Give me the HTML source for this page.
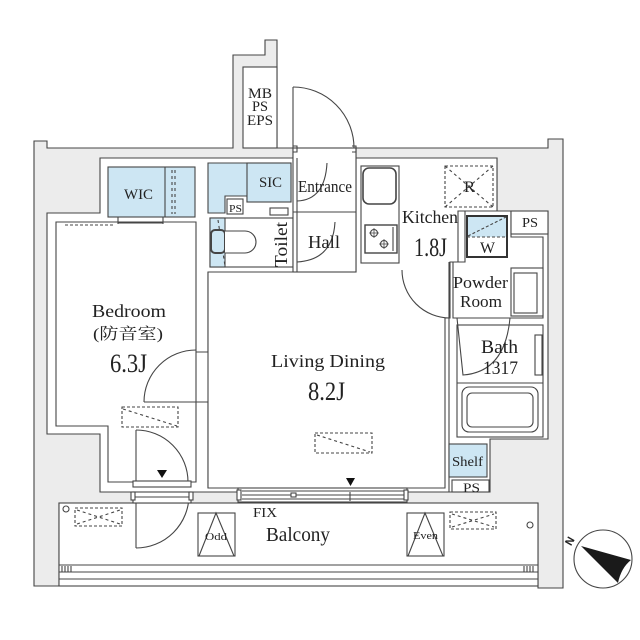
<!DOCTYPE html>
<html><head><meta charset="utf-8"><style>
html,body{margin:0;padding:0;background:#fff;}
svg{display:block;}
text{font-family:"Liberation Serif","Noto Serif CJK SC",serif;fill:#222;}
</style></head><body>
<svg width="640" height="640" viewBox="0 0 640 640" xmlns="http://www.w3.org/2000/svg">
<g fill="none" stroke="#454545" stroke-width="1.1">
<!-- gray structure -->
<polygon fill="#ececec" points="34,141 47,141 47,148 233,148 233,55 265,55 265,40 277,40 277,148 548,148 548,139 563,139 563,588 538,588 538,503 59,503 59,586 34,586"/>
<rect x="243" y="67" width="34" height="81" fill="#fff"/>
<!-- unit interior -->
<polygon fill="#fff" points="47,213 100,213 100,158 293,158 293,148 356,148 356,158 497,158 497,211 548,211 548,439 490,439 490,492 100,492 100,434 47,434"/>
<!-- balcony -->
<rect x="59" y="503" width="479" height="83" fill="#fff"/>
<line x1="59" y1="565" x2="538" y2="565"/>
<line x1="59" y1="572" x2="538" y2="572"/>
<line x1="59" y1="579" x2="538" y2="579"/>
<path d="M62,566V572M65,566V572M68,566V572M71,566V572M524,566V572M527,566V572M530,566V572M533,566V572"/>

<!-- bedroom -->
<polygon fill="#fff" points="56,222 196,222 196,482 108,482 108,426 56,426"/>
<line x1="208" y1="272" x2="208" y2="352"/>
<line x1="208" y1="402" x2="208" y2="488"/>
<path d="M196,352H208M196,402H208"/>
<!-- WIC -->
<rect x="108" y="167" width="87" height="50" fill="#cde6f3"/>
<line x1="165" y1="167" x2="165" y2="217"/>
<path d="M172,170V214M175,170V214" stroke-dasharray="3,3"/>
<path d="M118,217V224M163,217V224M118,223H163"/>
<line x1="65" y1="225" x2="115" y2="225" stroke-dasharray="3,2"/>
<!-- closet / SIC -->
<polygon fill="#cde6f3" points="208,163 291,163 291,202 247,202 247,196 225,196 225,213 208,213"/>
<rect x="247" y="163" width="44" height="39" fill="#cde6f3"/>
<rect x="227" y="199" width="16" height="15" fill="#fff"/>
<rect x="270" y="208" width="18" height="7" fill="#fff"/>
<!-- toilet -->
<rect x="210" y="218" width="83" height="49" fill="#fff"/>
<rect x="210" y="218" width="15" height="49" fill="#cde6f3"/>
<line x1="218" y1="220" x2="225" y2="266" stroke-dasharray="3,3"/>
<rect x="211" y="230" width="14" height="23" rx="4" stroke-width="2" fill="#cde6f3"/>
<path d="M225,231H245A11,11 0 0 1 245,253H225" fill="#fff"/>
<line x1="245" y1="275" x2="297" y2="275" stroke-dasharray="3,2"/>
<!-- LD + kitchen -->
<polygon fill="#fff" points="208,272 356,272 356,158 497,158 497,211 458,211 458,262 450,262 450,318 445,318 445,488 208,488"/>
<!-- entrance / hall -->
<rect x="293" y="148" width="63" height="124" fill="#fff"/>
<line x1="297" y1="158" x2="297" y2="272"/>
<line x1="293" y1="212" x2="356" y2="212"/>
<path d="M293,146H297V152H293M352,146H356V152H352"/>
<line x1="293" y1="87" x2="293" y2="148"/>
<path d="M293,87A61,61 0 0 1 354,148"/>
<path d="M327,163Q325,200 297,201"/>
<path d="M335,222Q333,260 297,262"/>
<!-- kitchen fittings -->
<rect x="361" y="166" width="38" height="97" fill="#fff"/>
<rect x="363" y="168" width="33" height="36" rx="6" stroke-width="1.6"/>
<rect x="365" y="225" width="32" height="28" stroke-width="1.4"/>
<circle cx="374" cy="233" r="3.5"/><circle cx="384" cy="244" r="3.5"/>
<path d="M369,233H379M374,228V238M379,244H389M384,239V249" stroke-width="0.8"/>
<line x1="393" y1="227" x2="393" y2="251"/>
<rect x="445" y="166" width="48" height="41" stroke-dasharray="3,2"/>
<path d="M445,166L493,207M493,166L445,207" stroke-dasharray="3,3"/>
<path d="M402,270A48,48 0 0 0 450,318"/>
<!-- wet area -->
<line x1="449" y1="262" x2="449" y2="492"/>
<polygon fill="#fff" points="465,211 511,211 511,237 543,237 543,318 453,318 453,262 465,262"/>
<rect x="467" y="216" width="40" height="21" fill="#cde6f3" stroke="none"/>
<rect x="467" y="216" width="40" height="41" stroke-width="2" stroke="#333"/>
<path d="M467,237H507M468,236L506,217" stroke-dasharray="3,2"/>
<rect x="511" y="211" width="37" height="23" fill="#fff"/>
<rect x="511" y="268" width="32" height="48" fill="#fff"/>
<rect x="514" y="273" width="23" height="40"/>
<rect x="457" y="325" width="86" height="112" fill="#fff"/>
<line x1="457" y1="383" x2="543" y2="383"/>
<rect x="462" y="387" width="76" height="45" rx="7"/>
<rect x="467" y="393" width="66" height="34" rx="5"/>
<rect x="535" y="335" width="7" height="40"/>
<path d="M457,318L463,375Q505,372 510,318"/>
<rect x="449" y="444" width="38" height="33" fill="#cde6f3"/>
<rect x="452" y="480" width="37" height="12" fill="#fff"/>
<!-- bedroom doors -->
<line x1="136" y1="430" x2="136" y2="482"/>
<path d="M136,430A52,52 0 0 1 188,482"/>
<line x1="136" y1="495" x2="136" y2="548"/>
<path d="M189,495A53,53 0 0 1 136,548"/>
<line x1="144" y1="402" x2="196" y2="402"/>
<path d="M144,402A52,52 0 0 1 196,350"/>
<!-- windows -->
<rect x="133" y="481" width="58" height="6" fill="#fff"/>
<rect x="133" y="492" width="58" height="11" fill="#fff"/>
<line x1="133" y1="497" x2="191" y2="497"/>
<rect x="131" y="492" width="4" height="8" fill="#fff"/>
<rect x="189" y="492" width="4" height="8" fill="#fff"/>
<rect x="238" y="488" width="169" height="14" fill="#fff"/>
<path d="M242,491H405M242,495H405M242,499H405"/>
<rect x="237" y="490" width="4" height="10" fill="#fff"/>
<rect x="404" y="490" width="4" height="10" fill="#fff"/>
<rect x="291" y="493" width="5" height="4" fill="#fff"/>
<line x1="350" y1="492" x2="350" y2="501"/>
<!-- dashed AC units -->
<rect x="122" y="407" width="56" height="20" stroke-dasharray="3,2"/>
<line x1="123" y1="409" x2="177" y2="426" stroke-dasharray="3,3"/>
<rect x="315" y="433" width="57" height="20" stroke-dasharray="3,2"/>
<line x1="317" y1="435" x2="370" y2="452" stroke-dasharray="3,3"/>
<rect x="75" y="508" width="47" height="18" stroke-dasharray="3,2"/>
<path d="M77,510L120,524M77,524L120,510" stroke-dasharray="3,3"/>
<rect x="450" y="512" width="46" height="17" stroke-dasharray="3,2"/>
<path d="M452,514L494,527M452,527L494,514" stroke-dasharray="3,3"/>
<circle cx="66" cy="509" r="3"/>
<circle cx="530" cy="525" r="3"/>
<!-- odd / even -->
<rect x="198" y="513" width="37" height="43" fill="#fff"/>
<polyline points="199,556 216,513 234,556"/>
<rect x="407" y="513" width="37" height="43" fill="#fff"/>
<polyline points="408,556 425,513 443,556"/>
<!-- compass -->
<circle cx="603" cy="559" r="29" fill="#fff"/>
</g>
<polygon points="346,478 355,478 350.5,486" fill="#111"/>
<polygon points="157,470 167,470 162,478" fill="#111"/>
<path d="M581,546L631,560Q621,568 618,583Z" fill="#1a1a1a"/>
<text transform="translate(573,543) rotate(-60)" font-size="11" font-weight="bold" text-anchor="middle" style="font-family:'Liberation Sans',sans-serif">N</text>

<!-- labels -->
<text x="248" y="98" font-size="15" textLength="24" lengthAdjust="spacingAndGlyphs">MB</text>
<text x="252" y="111" font-size="15" textLength="16" lengthAdjust="spacingAndGlyphs">PS</text>
<text x="247" y="125" font-size="15" textLength="26" lengthAdjust="spacingAndGlyphs">EPS</text>
<text x="124" y="199" font-size="15" textLength="29" lengthAdjust="spacingAndGlyphs">WIC</text>
<text x="259" y="187" font-size="15" textLength="23" lengthAdjust="spacingAndGlyphs">SIC</text>
<text x="298" y="192" font-size="17" textLength="54" lengthAdjust="spacingAndGlyphs">Entrance</text>
<text x="229" y="212" font-size="11" textLength="13" lengthAdjust="spacingAndGlyphs">PS</text>
<text transform="translate(287,267) rotate(-90)" font-size="18" textLength="45" lengthAdjust="spacingAndGlyphs">Toilet</text>
<text x="308" y="248" font-size="18" textLength="32" lengthAdjust="spacingAndGlyphs">Hall</text>
<text x="402" y="223" font-size="18" textLength="56" lengthAdjust="spacingAndGlyphs">Kitchen</text>
<text x="414" y="256" font-size="26" textLength="33" lengthAdjust="spacingAndGlyphs">1.8J</text>
<text x="464" y="192" font-size="16" textLength="11" lengthAdjust="spacingAndGlyphs">R</text>
<text x="522" y="227" font-size="14" textLength="16" lengthAdjust="spacingAndGlyphs">PS</text>
<text x="480" y="253" font-size="16" textLength="15" lengthAdjust="spacingAndGlyphs">W</text>
<text x="453" y="288" font-size="17" textLength="55" lengthAdjust="spacingAndGlyphs">Powder</text>
<text x="460" y="307" font-size="17" textLength="42" lengthAdjust="spacingAndGlyphs">Room</text>
<text x="481" y="353" font-size="19" textLength="37" lengthAdjust="spacingAndGlyphs">Bath</text>
<text x="483" y="374" font-size="19" textLength="35" lengthAdjust="spacingAndGlyphs">1317</text>
<text x="271" y="367" font-size="18" textLength="114" lengthAdjust="spacingAndGlyphs">Living Dining</text>
<text x="308" y="400" font-size="26" textLength="37" lengthAdjust="spacingAndGlyphs">8.2J</text>
<text x="92" y="317" font-size="18" textLength="74" lengthAdjust="spacingAndGlyphs">Bedroom</text>
<text x="93" y="339" font-size="16" textLength="70" lengthAdjust="spacingAndGlyphs">(防音室)</text>
<text x="110" y="372" font-size="26" textLength="37" lengthAdjust="spacingAndGlyphs">6.3J</text>
<text x="452" y="466" font-size="14" textLength="31" lengthAdjust="spacingAndGlyphs">Shelf</text>
<text x="463" y="492" font-size="13" textLength="17" lengthAdjust="spacingAndGlyphs">PS</text>
<text x="253" y="517" font-size="14" textLength="24" lengthAdjust="spacingAndGlyphs">FIX</text>
<text x="266" y="541" font-size="20" textLength="64" lengthAdjust="spacingAndGlyphs">Balcony</text>
<text x="205" y="540" font-size="11" textLength="22" lengthAdjust="spacingAndGlyphs">Odd</text>
<text x="413" y="539" font-size="11" textLength="25" lengthAdjust="spacingAndGlyphs">Even</text>
</svg>
</body></html>
